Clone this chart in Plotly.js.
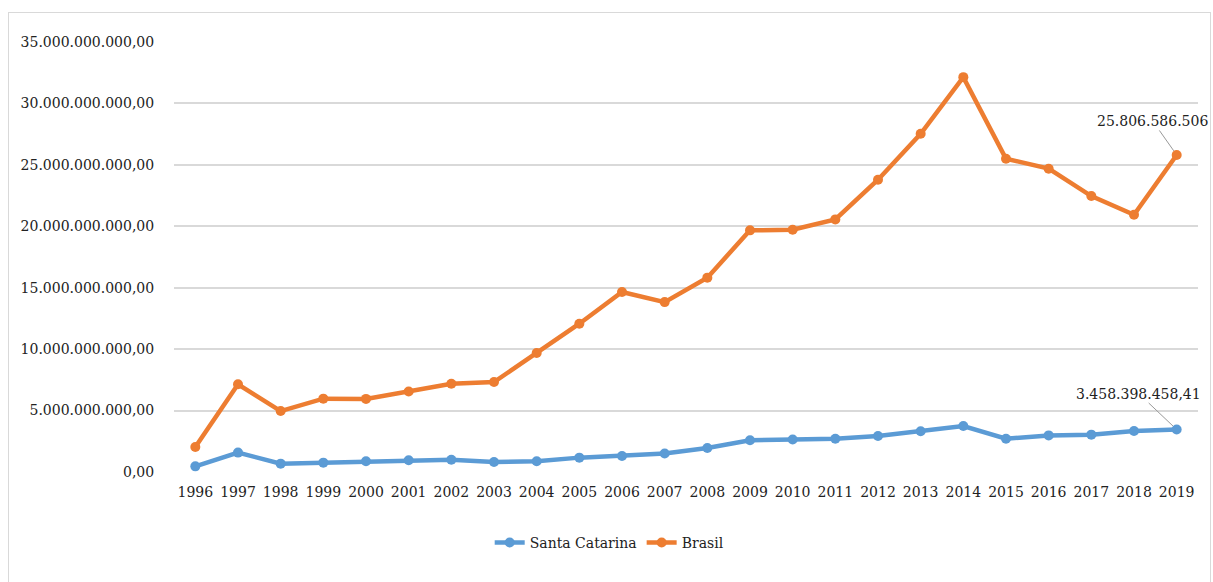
<!DOCTYPE html>
<html>
<head>
<meta charset="utf-8">
<script src="https://cdn.plot.ly/plotly-3.0.1.min.js"></script>
<style>
html,body{margin:0;padding:0;background:#fff;}
#wrap{position:relative;width:1213px;height:582px;overflow:hidden;}
#chart{width:1213px;height:582px;}
#frame{position:absolute;left:8px;top:12px;width:1201px;height:600px;border:1px solid #d9d9d9;pointer-events:none;}
</style>
</head>
<body>
<div id="wrap"><div id="chart"></div><div id="frame"></div></div>
<script>
const years = ['1996','1997','1998','1999','2000','2001','2002','2003','2004','2005','2006','2007','2008','2009','2010','2011','2012','2013','2014','2015','2016','2017','2018','2019'];
const santaCatarina = [0.46e9,1.58e9,0.68e9,0.76e9,0.87e9,0.95e9,1.0e9,0.81e9,0.87e9,1.17e9,1.3e9,1.5e9,1.95e9,2.58e9,2.64e9,2.71e9,2.93e9,3.31e9,3.74e9,2.71e9,2.98e9,3.04e9,3.34e9,3458398458.41];
const brasil = [2.03e9,7.14e9,4.96e9,5.97e9,5.95e9,6.55e9,7.19e9,7.32e9,9.68e9,12.07e9,14.65e9,13.83e9,15.82e9,19.67e9,19.72e9,20.56e9,23.79e9,27.53e9,32.14e9,25.5e9,24.69e9,22.46e9,20.94e9,25806586506];
const yTickVals = [0,5e9,10e9,15e9,20e9,25e9,30e9,35e9];
const yTickText = ['0,00','5.000.000.000,00','10.000.000.000,00','15.000.000.000,00','20.000.000.000,00','25.000.000.000,00','30.000.000.000,00','35.000.000.000,00'];
const labelSC = '3.458.398.458,41';
const labelBR = '25.806.586.506';

const font = {family:'DejaVu Serif', size:14, color:'#222'};
const last = years.length - 1;

const traces = [
  {x:years, y:santaCatarina, name:'Santa Catarina', type:'scatter', mode:'lines+markers',
   line:{color:'#5B9BD5', width:4.5}, marker:{color:'#5B9BD5', size:10}},
  {x:years, y:brasil, name:'Brasil', type:'scatter', mode:'lines+markers',
   line:{color:'#ED7D31', width:4.5}, marker:{color:'#ED7D31', size:10}}
];

const layout = {
  width:1213, height:582,
  margin:{l:174, r:15, t:42, b:110},
  paper_bgcolor:'#fff', plot_bgcolor:'#fff',
  font:font,
  showlegend:true,
  legend:{orientation:'h', x:0.425, xanchor:'center', y:-0.165, yanchor:'middle', font:font},
  xaxis:{type:'category', range:[-0.5,23.5], showgrid:false, zeroline:false, showline:false,
         ticks:'outside', ticklen:7, tickcolor:'rgba(0,0,0,0)', tickfont:font, automargin:false},
  yaxis:{range:[0,35e9], tickvals:yTickVals, ticktext:yTickText, showgrid:true, gridcolor:'#d9d9d9',
         gridwidth:1.5, zeroline:false, showline:false, ticks:'outside', ticklen:16, tickcolor:'rgba(0,0,0,0)',
         tickfont:font, automargin:false},
  annotations:[
    {xref:'x', yref:'y', x:last, y:brasil[last], text:labelBR, showarrow:true, arrowhead:0, arrowcolor:'#999',
     arrowwidth:1, ax:-24, ay:-34, font:font, standoff:5},
    {xref:'x', yref:'y', x:last, y:santaCatarina[last], text:labelSC, showarrow:true, arrowhead:0, arrowcolor:'#999',
     arrowwidth:1, ax:-38, ay:-36, font:font, standoff:5}
  ]
};

Plotly.newPlot('chart', traces, layout, {displayModeBar:false});
</script>
</body>
</html>
